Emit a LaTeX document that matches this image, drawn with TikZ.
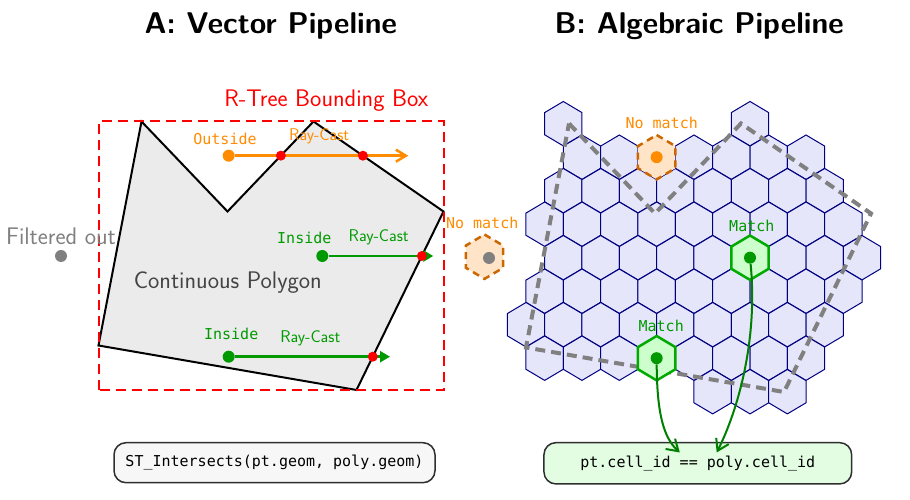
\documentclass[tikz,border=0pt]{standalone}
\usepackage{fontspec}
\setmonofont{DejaVu Sans Mono}
\usepackage{tikz}
\usepackage{xcolor}
\usetikzlibrary{arrows.meta,positioning,calc}
\definecolor{rayorange}{HTML}{FF8C00}
\definecolor{raygreen}{HTML}{009A00}
\definecolor{curvegreen}{HTML}{008000}
\definecolor{matchedge}{HTML}{00AA00}
\definecolor{matchfill}{HTML}{CCFFCC}
\definecolor{hexnavy}{HTML}{000080}
\definecolor{hexfill}{HTML}{E6E6FA}
\definecolor{nomatchfill}{HTML}{FFE4C8}
\definecolor{nomatchedge}{HTML}{CC6600}
\definecolor{polyfill}{HTML}{EBEBEB}
\definecolor{polytext}{HTML}{444444}
\definecolor{boxgray}{HTML}{F7F7F7}
\definecolor{boxgreen}{HTML}{E2FDE2}
\definecolor{boxedge}{HTML}{2F2F2F}

\tikzset{
  hexcell/.pic={
    \path[pic actions] (0,22.2) -- (18.67,11.1) -- (18.67,-11.1) -- (0,-22.2)
      -- (-18.67,-11.1) -- (-18.67,11.1) -- cycle;
  }
}

\begin{document}
\begin{tikzpicture}[
    x=1pt, y=1pt,
    paneltitle/.style={
      font=\fontsize{30}{36}\selectfont\sffamily\bfseries,
      anchor=base
    },
    sanslabel/.style={
      font=\fontsize{24}{28}\selectfont\sffamily,
      anchor=base
    },
    raylabel/.style={
      font=\fontsize{17}{20}\selectfont\sffamily,
      anchor=base
    },
    mono/.style={
      font=\fontsize{15}{18}\selectfont\ttfamily,
      anchor=base
    },
    ptdot/.style={circle, inner sep=0pt, minimum size=12pt},
    hitdot/.style={circle, fill=red, inner sep=0pt, minimum size=10pt},
    orangeray/.style={
      -{Straight Barb[length=10pt,width=12pt]},
      line width=2.5pt,
      rayorange
    },
    greenray/.style={
      -{Triangle[length=10pt,width=11pt]},
      line width=2.5pt,
      raygreen
    },
    matcharrow/.style={
      -{Straight Barb[length=11pt,width=14pt]},
      line width=2pt,
      curvegreen
    },
    gridcell/.style={draw=hexnavy, fill=hexfill, line width=1pt},
    nomatchcell/.style={
      draw=nomatchedge, fill=nomatchfill,
      line width=2.5pt, dash pattern=on 7pt off 5pt
    },
    matchcell/.style={draw=matchedge, fill=matchfill, line width=2.5pt},
    querybox/.style={
      draw=boxedge,
      rounded corners=12pt,
      line width=1.5pt,
      align=center,
      font=\fontsize{15}{18}\selectfont\ttfamily
    }
  ]

  \fill[white] (0,0) rectangle (910,500);
  \useasboundingbox (0,0) rectangle (910,500);

  \node[paneltitle] (titleA) at (270.8,466.7) {A: Vector Pipeline};
  \node[paneltitle] (titleB) at (699.2,466.7) {B: Algebraic Pipeline};

  % polygon and its bounding box
  \coordinate (p1) at (141.5,378.5);
  \coordinate (p2) at (227.5,288.5);
  \coordinate (p3) at (313.5,378.5);
  \coordinate (p4) at (443.5,288.5);
  \coordinate (p5) at (356.5,110);
  \coordinate (p6) at (98.5,154.5);

  \draw[fill=polyfill, line width=2pt, line join=miter]
    (p1) -- (p2) -- (p3) -- (p4) -- (p5) -- (p6) -- cycle;
  \draw[red, line width=2pt, dash pattern=on 10pt off 6pt]
    (p6 |- p5) rectangle (p4 |- p1);
  \node[sanslabel, text=red, anchor=base east] (rtreelbl) at (431.7,393.3) {R-Tree Bounding Box};
  \node[sanslabel, text=polytext] (polylbl) at (227.8,211.7) {Continuous Polygon};

  \node[ptdot, fill=gray] (filtpt) at (61,244) {};
  \node[sanslabel, text=gray] (filtlbl) at (61,255.7) {Filtered out};

  % ray casts
  \node[ptdot, fill=rayorange] (outpt) at (228.7,344.3) {};
  \coordinate (outend) at (408.3,344.3);
  \draw[orangeray] (outpt) -- (outend);
  \node[hitdot] (ohit1) at (intersection of p2--p3 and outpt.center--outend) {};
  \node[hitdot] (ohit2) at (intersection of p3--p4 and outpt.center--outend) {};
  \node[mono, text=rayorange] (outlbl) at (225,355) {Outside};
  \node[raylabel, text=rayorange] (outcast) at (319.2,359.3) {Ray-Cast};

  \node[ptdot, fill=raygreen] (inpt1) at (322.3,244) {};
  \coordinate (inend1) at (433.3,244);
  \draw[greenray] (inpt1) -- (inend1);
  \node[hitdot] (ihit1) at (intersection of p4--p5 and inpt1.center--inend1) {};
  \node[mono, text=raygreen] (inlbl1) at (304.3,256) {Inside};
  \node[raylabel, text=raygreen] (incast1) at (378.7,258.3) {Ray-Cast};

  \node[ptdot, fill=raygreen] (inpt2) at (228.7,143.3) {};
  \coordinate (inend2) at (390,143.3);
  \draw[greenray] (inpt2) -- (inend2);
  \node[hitdot] (ihit2) at (intersection of p4--p5 and inpt2.center--inend2) {};
  \node[mono, text=raygreen] (inlbl2) at (231.2,160) {Inside};
  \node[raylabel, text=raygreen] (incast2) at (310.3,157.7) {Ray-Cast};

  % hex grid
  \foreach \r/\cols in {0/{0,10}, 1/{1,3,7,9,11,13}, 2/{0,2,...,14},
      3/{-1,1,...,15}, 4/{0,2,4,6,8,12,14,16}, 5/{-1,1,...,15},
      6/{-2,0,...,14}, 7/{-1,1,3,7,9,11,13}, 8/{8,10,12}}
    \foreach \c in \cols
      \pic[gridcell] at ({563.3+18.67*\c},{376.3-33.5*\r}) {hexcell};

  \draw[gray, line width=4pt, dash pattern=on 10pt off 6pt]
    ($(p1)+(427.5,-2)$) -- ($(p2)+(427.5,-2)$) -- ($(p3)+(427.5,-2)$)
    -- ($(p4)+(427.5,-2)$) -- ($(p5)+(427.5,-2)$) -- ($(p6)+(427.5,-2)$) -- cycle;

  \pic[nomatchcell] at (656.65,342.8) {hexcell};
  \pic[nomatchcell] at (484.5,243.3) {hexcell};
  \pic[matchcell] at (750,242.3) {hexcell};
  \pic[matchcell] at (656.65,141.8) {hexcell};

  \node[ptdot, fill=rayorange] (nopt1) at (656.65,342.8) {};
  \node[ptdot, fill=gray] (nopt2) at (489,242) {};
  \node[ptdot, fill=raygreen] (matchpt1) at (750,242.3) {};
  \node[ptdot, fill=raygreen] (matchpt2) at (656.65,141.8) {};

  \node[mono, text=rayorange] (nolbl1) at (661.7,371.7) {No match};
  \node[mono, text=rayorange] (nolbl2) at (482.2,271.7) {No match};
  \node[mono, text=raygreen] (matchlbl1) at (751.8,268.3) {Match};
  \node[mono, text=raygreen] (matchlbl2) at (661.2,168.3) {Match};

  % join conditions
  \node[querybox, fill=boxgray, minimum width=321pt, minimum height=40pt]
    (stbox) at (274.5,37.3) {ST\_Intersects(pt.geom, poly.geom)};
  \node[querybox, fill=boxgreen, minimum width=307.7pt, minimum height=41.3pt]
    (cellbox) at (697.8,36.7) {pt.cell\_id == poly.cell\_id};

  \coordinate (tipA) at ($(cellbox.north)+(-18,-10.6)$);
  \coordinate (tipB) at ($(cellbox.north)+(18.9,-10.6)$);
  \draw[matcharrow] (matchpt2) .. controls (657,85) and (664,62) .. (tipA);
  \draw[matcharrow] (matchpt1) .. controls (758,160) and (738,90) .. (tipB);

\end{tikzpicture}
\end{document}
